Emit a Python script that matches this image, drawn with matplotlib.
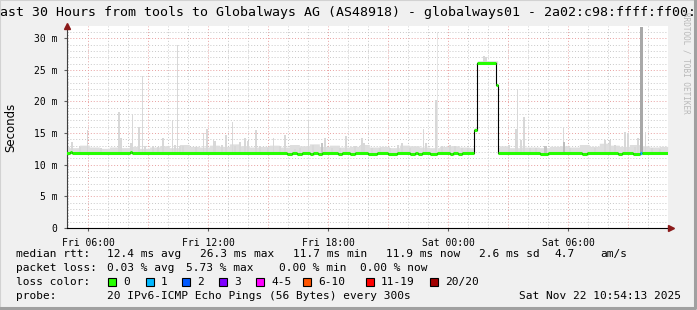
import numpy as np
import matplotlib
matplotlib.use('Agg')
import matplotlib.pyplot as plt
from matplotlib.patches import Rectangle
from matplotlib.lines import Line2D

# time axis in hours since Fri 00:00, values in ms

# median rtt, value holds from med_t[i] to med_t[i+1]
med_t = [4.90, 5.10, 5.20, 8.10, 8.20, 15.95, 16.20, 16.45, 16.70, 17.10, 17.25, 17.50, 17.70,
         18.50, 18.70, 19.10, 19.35, 20.00, 20.45, 21.00, 21.45, 22.10, 22.35, 22.50, 22.70,
         23.10, 23.45, 24.10, 24.25, 24.50, 24.70, 25.30, 25.45, 26.40, 26.475, 28.60, 29.00,
         30.70, 30.95, 32.50, 32.70, 33.25, 33.60, 33.70, 35.00]
med_v = [11.85, 12.00, 11.85, 12.00, 11.85, 11.70, 11.85, 11.70, 11.85, 11.70, 11.85, 11.70, 11.85,
         11.70, 11.85, 11.70, 11.85, 11.70, 11.85, 11.70, 11.85, 11.70, 11.85, 11.70, 11.85,
         11.70, 11.85, 11.70, 11.85, 11.70, 11.85, 15.50, 26.10, 22.60, 11.85, 11.70, 11.85,
         11.70, 11.85, 11.70, 11.85, 11.70, 11.80, 11.85, 11.85]
med_loss = [0] * 42 + [1, 0, 0]

# low smoke band around the median, one value per half hour from 04:30
band_h = np.arange(4.5, 35.5, 0.5)
band_top = [12.9, 12.7, 13.1, 12.8, 12.6, 12.8, 12.7, 12.9, 12.6, 12.8, 13.0, 12.7,
            13.2, 12.9, 12.8, 13.1, 12.9, 13.3, 13.0, 12.8, 12.9, 13.1, 12.8, 13.2,
            13.0, 13.3, 12.9, 13.1, 12.8, 12.9, 13.2, 12.8, 12.9, 12.7, 13.1, 13.0,
            12.8, 12.7, 12.9, 13.0, 12.8, 12.7, 12.9, 12.8, 13.0, 12.7, 12.8, 12.8,
            12.7, 12.9, 13.0, 12.8, 13.2, 12.9, 13.4, 13.1, 12.9, 13.2, 13.0, 12.8,
            12.9, 12.8]

# light smoke spikes (max of the pings)
spike_h = [5.20, 5.60, 5.97, 6.65, 7.55, 7.65, 8.15, 8.22, 8.55, 8.72, 8.85, 9.25, 9.50, 9.75,
           10.22, 10.35, 10.47, 10.60, 10.75, 11.40, 11.77, 11.95, 12.27, 12.35, 12.70, 12.90,
           13.22, 13.35, 13.60, 13.85, 14.00, 14.39, 14.60, 15.00, 15.27, 15.60, 15.85, 16.35,
           16.60, 17.02, 17.25, 17.85, 18.20, 18.60, 18.90, 19.35, 19.70, 19.80, 20.20, 20.60,
           21.10, 21.50, 21.70, 22.10, 22.77, 22.90, 23.40, 23.70, 24.10, 24.35, 24.70, 25.00,
           25.80, 25.90, 26.52, 27.05, 27.40, 27.47, 27.65, 27.80, 28.10, 28.40, 29.77, 30.10,
           31.35, 31.85, 32.10, 32.35, 32.85, 33.00, 33.35, 33.50, 33.88, 34.20, 34.60]
spike_top = [13.6, 12.8, 15.5, 12.6, 18.4, 14.2, 13.4, 18.1, 16.0, 24.0, 12.9, 12.9, 12.8, 14.3,
             17.1, 13.2, 28.9, 13.0, 13.0, 12.8, 15.0, 15.7, 14.0, 13.8, 13.2, 14.7,
             16.8, 13.0, 13.6, 14.2, 13.8, 15.5, 13.0, 12.7, 14.2, 12.9, 14.7, 12.5,
             12.6, 17.1, 13.2, 14.2, 12.6, 12.6, 14.5, 13.0, 14.3, 13.4, 12.6, 12.7,
             12.6, 13.2, 13.4, 12.6, 15.7, 13.4, 20.2, 12.9, 13.1, 13.0, 12.7, 12.6,
             27.2, 27.0, 18.4, 13.1, 15.7, 21.9, 13.9, 17.6, 12.6, 12.6, 16.0, 12.7,
             12.6, 13.9, 13.9, 13.2, 15.2, 15.0, 12.8, 14.3, 15.2, 12.6, 12.5]

# very faint single outlier
faint_h = [23.47]
faint_top = [31.0]

# darker smoke (many pings high)
dark_h = [17.70, 25.34, 28.85, 29.78, 33.68]
dark_top = [13.4, 15.5, 12.9, 13.6, 31.7]

xtick_h = [6, 12, 18, 24, 30]
xtick_lab = ['Fri 06:00', 'Fri 12:00', 'Fri 18:00', 'Sat 00:00', 'Sat 06:00']
ytick_v = [0, 5, 10, 15, 20, 25, 30]
ytick_lab = ['0', '5 m', '10 m', '15 m', '20 m', '25 m', '30 m']

loss_lab = ['0', '1', '2', '3', '4-5', '6-10', '11-19', '20/20']
loss_col = ['#26ff00', '#00b8ff', '#0059ff', '#7e00ff', '#ff00ff', '#ff5500', '#ff0000', '#a00000']

title = 'Last 30 Hours from tools to Globalways AG (AS48918) - globalways01 - 2a02:c98:ffff:ff00::2'

W, H = 697, 310
def fx(x):
    return x / W
def fy(y):
    return 1 - y / H

mono = 'DejaVu Sans Mono'

def median_at(h):
    i = np.searchsorted(med_t, h, side='right') - 1
    i = np.clip(i, 0, len(med_v) - 1)
    return np.asarray(med_v)[i]

fig = plt.figure(figsize=(W / 100, H / 100), dpi=100)
fig.patch.set_facecolor('#f0f0f0')
ax = fig.add_axes([fx(67), 1 - 228 / H, (668 - 67) / W, (228 - 25.6) / H])
ax.set_facecolor('white')
ax.set_xlim(4.95, 35.0)
ax.set_ylim(0, 32)

# grid
for h in range(5, 36):
    major = h % 3 == 0
    ax.axvline(h, color='#e8a0a0' if major else '#c8c8c8', lw=0.7,
               ls=(0, (1, 2)), zorder=1)
for v in range(1, 32):
    major = v % 5 == 0
    ax.axhline(v, color='#e8a0a0' if major else '#c8c8c8', lw=0.7,
               ls=(0, (1, 2)), zorder=1)

# smoke band
grid_h = np.arange(4.9, 35.0, 1 / 12)
med_grid = median_at(grid_h)
band_grid = np.asarray(band_top)[np.searchsorted(band_h, grid_h, side='right') - 1]
upper = np.maximum(band_grid, med_grid + 0.35)
upper = np.where(med_grid > 13, med_grid + 0.35, upper)
ax.fill_between(grid_h, med_grid - 0.2, upper, step='post', color='#dedede', lw=0, zorder=2)

# spikes
sb = median_at(np.array(spike_h))
ax.bar(spike_h, np.array(spike_top) - sb, bottom=sb, width=0.08, color='#d8d8d8', lw=0, zorder=3)
fb = median_at(np.array(faint_h))
ax.bar(faint_h, np.array(faint_top) - fb, bottom=fb, width=0.05, color='#e6e6e6', lw=0, zorder=2)
db = median_at(np.array(dark_h))
ax.bar(dark_h, np.array(dark_top) - db, bottom=db, width=[0.1, 0.1, 0.15, 0.1, 0.14],
       color=['#c4c4c4', '#888888', '#c4c4c4', '#bdbdbd', '#a8a8a8'], lw=0, zorder=3)

# median line: black connector then loss colored segments
ax.step(med_t, med_v, where='post', color='black', lw=0.8, zorder=4)
for i in range(len(med_t) - 1):
    ax.hlines(med_v[i], med_t[i], med_t[i + 1], color=loss_col[med_loss[i]],
              lw=2.2, capstyle='butt', zorder=5)

# axes
for s in ['top', 'right']:
    ax.spines[s].set_visible(False)
ax.spines['left'].set_color('#404040')
ax.spines['bottom'].set_color('black')
ax.spines['left'].set_linewidth(0.8)
ax.spines['bottom'].set_linewidth(0.8)
ax.set_xticks(xtick_h)
ax.set_xticklabels(xtick_lab, fontfamily=mono, fontsize=7)
ax.set_yticks(ytick_v)
ax.set_yticklabels(ytick_lab, fontfamily=mono, fontsize=7)
ax.tick_params(axis='both', length=2.5, width=0.8, color='#606060', pad=4.5)
ax.plot([4.95], [32], marker='^', color='#8b1a1a', ms=5, clip_on=False, zorder=6)
ax.plot([35.15], [0], marker='>', color='#8b1a1a', ms=5, clip_on=False, zorder=6)

fig.text(fx(351.5), fy(12.5), title, fontfamily=mono, fontsize=9.5, ha='center', va='center')
fig.text(fx(11), fy(127), 'Seconds', fontsize=8.5, rotation=90, ha='center', va='center')
fig.text(fx(686), fy(12), 'RRDTOOL / TOBI OETIKER', fontfamily=mono, fontsize=5.5,
         rotation=-90, ha='center', va='top', color='#b8b8b8')

# legend text
leg = dict(fontfamily=mono, fontsize=8, va='center', ha='left')
fig.text(fx(16), fy(254), 'median rtt:', **leg)
for x, s in [(107.3, '12.4 ms avg'), (200, '26.3 ms max'), (293.3, '11.7 ms min'),
             (385.7, '11.9 ms now'), (479.3, '2.6 ms sd'), (554.3, '4.7'), (600, 'am/s')]:
    fig.text(fx(x), fy(254), s, **leg)
fig.text(fx(16), fy(268), 'packet loss:', **leg)
for x, s in [(107.3, '0.03 % avg'), (186.5, '5.73 % max'), (279.3, '0.00 % min'),
             (360.3, '0.00 % now')]:
    fig.text(fx(x), fy(268), s, **leg)
fig.text(fx(16), fy(282), 'loss color:', **leg)
lab_x = [123.3, 160.7, 197, 234, 271, 318.3, 380.7, 445]
for x, s, c in zip(lab_x, loss_lab, loss_col):
    fig.add_artist(Rectangle((fx(x - 15), fy(286)), 8 / W, 8 / H, transform=fig.transFigure,
                             facecolor=c, edgecolor='black', lw=0.8))
    fig.text(fx(x), fy(282), s, **leg)
fig.text(fx(16), fy(296), 'probe:', **leg)
fig.text(fx(107.3), fy(296), '20 IPv6-ICMP Echo Pings (56 Bytes) every 300s', **leg)
fig.text(fx(681), fy(296), 'Sat Nov 22 10:54:13 2025', fontfamily=mono, fontsize=8,
         va='center', ha='right')

# frame
fig.add_artist(Line2D([0, 0, 1], [0, 1, 1], transform=fig.transFigure, color='#d2d2d2', lw=1.5))
fig.add_artist(Line2D([0.002, 0.997, 0.997], [0.005, 0.005, 1], transform=fig.transFigure,
                      color='#a0a0a0', lw=2.2))

fig.savefig('out.png', dpi=100, facecolor=fig.get_facecolor())
